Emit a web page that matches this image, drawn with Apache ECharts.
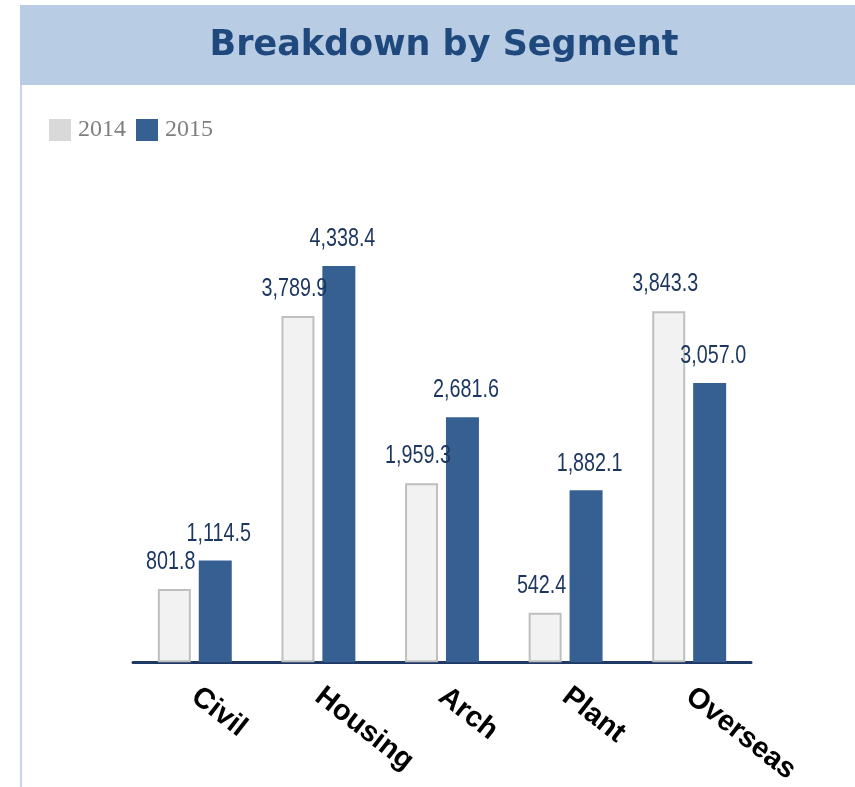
<!DOCTYPE html>
<html>
<head>
<meta charset="utf-8">
<script src="https://cdn.jsdelivr.net/npm/echarts@6/dist/echarts.min.js"></script>
<style>
  html, body { margin: 0; padding: 0; background: #fff; }
  #chart { width: 855px; height: 787px; }
</style>
</head>
<body>
<div id="chart"></div>
<script>
const categories = ['Civil', 'Housing', 'Arch', 'Plant', 'Overseas'];
const years = ['2014', '2015'];
const values2014 = [801.8, 3789.9, 1959.3, 542.4, 3843.3];
const values2015 = [1114.5, 4338.4, 2681.6, 1882.1, 3057.0];

const chart = echarts.init(document.getElementById('chart'));

const fmt = (v) => v.toLocaleString('en-US', { minimumFractionDigits: 1, maximumFractionDigits: 1 });

// narrow value labels, drawn at the bar tops through the axis scales
function labelSeries(values, offset) {
  return {
    type: 'custom',
    silent: true,
    z: 5,
    data: values.map((v, i) => [i, v]),
    renderItem: function (params, api) {
      const pt = api.coord([api.value(0), api.value(1)]);
      return {
        type: 'text',
        x: pt[0] + offset,
        y: pt[1] - 14,
        scaleX: 0.76,
        style: {
          text: fmt(api.value(1)),
          fill: '#1b365f',
          font: '26px "Liberation Sans", Arial, sans-serif',
          textAlign: 'center',
          textVerticalAlign: 'bottom'
        }
      };
    }
  };
}

const option = {
  animation: false,
  backgroundColor: '#ffffff',
  color: ['#d9d9d9', '#376092'],
  graphic: [
    { type: 'rect', shape: { x: 20, y: 5, width: 835, height: 80 }, style: { fill: '#b8cce4' }, z: 0 },
    { type: 'line', shape: { x1: 21, y1: 85, x2: 21, y2: 787 }, style: { stroke: '#c9d5e8', lineWidth: 2 } },
    {
      type: 'text', x: 444, y: 46, z: 5,
      style: {
        text: 'Breakdown by Segment',
        fill: '#1f497d',
        font: 'bold 35px "DejaVu Sans", sans-serif',
        textAlign: 'center',
        textVerticalAlign: 'middle'
      }
    }
  ],
  legend: {
    data: [
      { name: '2014', itemStyle: { color: '#d9d9d9', borderWidth: 0 } },
      { name: '2015', itemStyle: { color: '#376092', borderWidth: 0 } }
    ],
    left: 44,
    top: 113,
    itemWidth: 22,
    itemHeight: 22,
    itemGap: 10,
    icon: 'rect',
    textStyle: {
      color: '#7f7f7f',
      fontFamily: '"Liberation Serif", serif',
      fontSize: 24,
      padding: [0, 0, 0, 2]
    }
  },
  grid: {
    left: 133,
    right: 104,
    top: 205.5,
    bottom: 124,
    containLabel: false
  },
  xAxis: {
    type: 'category',
    data: categories,
    axisTick: { show: false },
    axisLine: { lineStyle: { color: '#1f3864', width: 3 } },
    axisLabel: {
      rotate: -38,
      margin: 31,
      color: '#000',
      fontWeight: 'bold',
      fontSize: 29,
      fontFamily: '"Liberation Sans", Arial, sans-serif'
    }
  },
  yAxis: {
    type: 'value',
    min: 0,
    max: 5000,
    show: false,
    splitLine: { show: false }
  },
  series: [
    {
      name: '2014',
      type: 'bar',
      data: values2014,
      barWidth: 33,
      barGap: '24%',
      itemStyle: { color: '#f2f2f2', borderColor: '#bfbfbf', borderWidth: 2 }
    },
    {
      name: '2015',
      type: 'bar',
      data: values2015,
      barWidth: 33,
      itemStyle: { color: '#376092' }
    },
    labelSeries(values2014, -24),
    labelSeries(values2015, 24)
  ]
};

chart.setOption(option);
</script>
</body>
</html>
